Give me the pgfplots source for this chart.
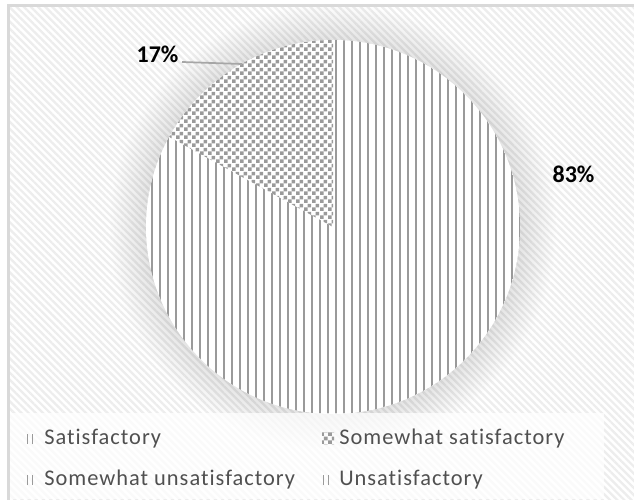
\documentclass[border=0pt]{standalone}
\usepackage{fontspec}
\setmainfont{Carlito}[Ligatures=NoCommon]
\usepackage{pgfplots}
\pgfplotsset{compat=1.18}
\usepackage{pgfplotstable}
\usetikzlibrary{patterns.meta}

\definecolor{stripe}{HTML}{9A9A9A}
\definecolor{bgstripe}{HTML}{EDEDED}
\definecolor{legtext}{HTML}{505050}
\definecolor{frame}{HTML}{D9D9D9}
\definecolor{leader}{HTML}{A6A6A6}

\tikzdeclarepattern{
  name=checker, type=uncolored,
  bounding box={(0pt,0pt) and (6pt,6pt)},
  tile size={(6pt,6pt)},
  code={\fill (0pt,0pt) rectangle (3pt,3pt); \fill (3pt,3pt) rectangle (6pt,6pt);}
}

\pgfplotstableread{
category value
Satisfactory 83
Somewhat-satisfactory 17
Somewhat-unsatisfactory 0
Unsatisfactory 0
}\piedata

\begin{document}
\begin{tikzpicture}
\pgfplotstablegetelem{0}{value}\of\piedata \edef\va{\pgfplotsretval}
\pgfplotstablegetelem{1}{value}\of\piedata \edef\vb{\pgfplotsretval}
\pgfmathsetmacro\aA{90-3.6*\va}
\pgfmathsetmacro\aB{\aA-3.6*\vb}
\begin{axis}[
  x=0.75pt, y=0.75pt,
  xmin=0, xmax=634, ymin=0, ymax=499,
  hide axis, clip=true,
]
% background
\fill[white] (axis cs:0,0) rectangle (axis cs:634,499);
\fill[pattern={Lines[angle=-45,distance=3.8pt,line width=1.7pt]}, pattern color=bgstripe]
  (axis cs:8,0) rectangle (axis cs:634,494);
% glow around the pie
\pgfplotsinvokeforeach{0,...,26}{
  \fill[black, fill opacity=0.0045] (axis cs:333,272) circle[radius={140.25pt+1.05pt*#1}];
}
% pie base
\fill[white] (axis cs:333,272) circle[radius=140.25pt];
% Satisfactory slice
\fill[pattern={Lines[angle=90,distance=6pt,line width=1.7pt]}, pattern color=stripe]
  (axis cs:333,272) -- ([shift={(90:140.25pt)}]axis cs:333,272)
  arc[start angle=90, end angle=\aA, radius=140.25pt] -- cycle;
% Somewhat satisfactory slice
\fill[pattern=checker, pattern color=stripe]
  (axis cs:333,272) -- ([shift={(\aA:140.25pt)}]axis cs:333,272)
  arc[start angle=\aA, end angle=\aB, radius=140.25pt] -- cycle;
% legend area
\fill[white, fill opacity=0.75] (axis cs:10,0) rectangle (axis cs:604,86);
% legend icons
\draw[stripe, line width=1.4pt] (axis cs:27.5,55) -- (axis cs:27.5,65) (axis cs:32.5,55) -- (axis cs:32.5,65);
\draw[stripe, line width=1.4pt] (axis cs:27.5,14) -- (axis cs:27.5,24) (axis cs:32.5,14) -- (axis cs:32.5,24);
\draw[stripe, line width=1.4pt] (axis cs:323.5,14) -- (axis cs:323.5,24) (axis cs:328.5,14) -- (axis cs:328.5,24);
\fill[pattern=checker, pattern color=stripe] (axis cs:322,55) rectangle (axis cs:334,66);
% legend texts
\begin{scope}[every node/.style={inner sep=0pt, text=legtext, font=\fontsize{16.8}{19}\selectfont\addfontfeature{LetterSpace=4.5}}]
\node[anchor=base west] at (axis cs:44,55) {Satisfactory};
\node[anchor=base west] at (axis cs:339,55) {Somewhat satisfactory};
\node[anchor=base west] at (axis cs:44,14) {Somewhat unsatisfactory};
\node[anchor=base west] at (axis cs:339,14) {Unsatisfactory};
\end{scope}
% data labels
\draw[leader, line width=1.3pt] (axis cs:182,437) -- (axis cs:242,435);
\node[font=\fontsize{18}{20}\selectfont\bfseries, inner sep=0pt] at (axis cs:157.5,445) {\vb\%};
\node[font=\fontsize{18}{20}\selectfont\bfseries, inner sep=0pt] at (axis cs:573.5,324.5) {\va\%};
% frame
\draw[frame, line width=1.6pt] (axis cs:8.5,-20) -- (axis cs:8.5,493.5) -- (axis cs:660,493.5);
\end{axis}
\end{tikzpicture}
\end{document}
